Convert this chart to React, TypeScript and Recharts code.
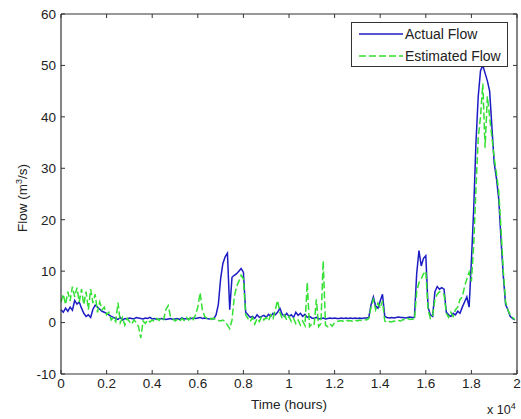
import React from 'react';
import { LineChart, Line, XAxis, YAxis } from 'recharts';

// time axis in hours, one sample every 100 h (0 .. 19900)
const hours = Array.from({ length: 200 }, (_, i) => i * 100);

const actualFlow = [
  2.5, 2.0, 2.8, 2.2, 3.0, 2.4, 4.3, 3.6, 4.0, 2.8,
  1.8, 1.2, 1.5, 1.0, 2.6, 3.4, 3.0, 2.6, 2.2, 2.0,
  1.8, 1.5, 1.2, 1.0, 0.8, 0.6, 1.0, 0.5, 0.8, 0.7,
  0.9, 0.8, 0.7, 1.0, 0.9, 0.8, 0.7, 0.9, 0.8, 1.0,
  0.7, 0.8, 0.6, 0.7, 0.8, 0.7, 0.6, 0.7, 0.8, 0.6,
  0.7, 0.8, 0.6, 0.9, 0.7, 0.8, 0.7, 0.8, 0.9, 0.8,
  0.9, 1.0, 0.8, 0.9, 0.8, 0.7, 0.8, 0.7, 1.5, 3.5,
  8.5, 11.5, 12.8, 13.5, 2.5, 8.8, 9.2, 9.5, 10.0, 10.5,
  9.8, 2.0, 1.5, 1.0, 1.2, 0.8, 1.5, 1.0, 1.2, 1.4,
  1.0, 1.6, 1.2, 1.8, 1.5, 2.0, 2.8, 1.6, 1.2, 1.8,
  1.2, 1.5, 1.0, 2.0, 1.4, 1.8, 1.2, 1.6, 1.0, 1.2,
  0.9, 0.8, 1.0, 0.7, 0.8, 0.9, 0.7, 0.8, 0.9, 0.8,
  0.9, 0.8, 0.8, 0.9, 0.8, 0.9, 0.8, 0.9, 0.8, 0.9,
  0.8, 0.9, 0.8, 0.9, 0.9, 1.0, 3.5, 5.0, 3.2, 2.8,
  4.2, 5.5, 1.2, 1.0, 0.9, 1.0, 0.9, 1.0, 1.1, 1.0,
  1.0, 0.9, 1.0, 1.1, 1.0, 1.0, 9.5, 14.0, 11.0, 12.5,
  13.0, 3.0, 1.5, 1.2, 6.0, 7.0, 6.5, 6.8, 6.5, 2.0,
  1.5, 1.2, 1.8, 1.5, 2.2, 1.8, 3.0, 4.0, 5.0, 3.0,
  12.0, 22.0, 35.0, 44.0, 49.0, 50.0, 48.5, 47.0, 45.0, 38.0,
  31.0, 28.0, 24.0, 16.0, 9.0, 3.5, 2.5, 1.2, 0.8, 0.5,
];

const estimatedFlow = [
  4.0, 5.5, 3.5, 6.0, 4.2, 7.0, 5.0, 6.8, 4.0, 6.5,
  3.5, 6.0, 2.5, 6.5, 3.8, 5.5, 2.0, 4.0, 2.5, 3.0,
  1.5, 2.0, 0.5, 1.0, 0.2, 3.9, 0.0, 1.0, -0.5, 0.8,
  0.2, -0.3, 0.5, 0.0, -0.8, -3.0, 0.3, -0.2, 0.5, 0.1,
  0.5, 0.2, 0.8, 0.4, 1.0, 0.6, 2.5, 3.3, 1.2, 0.8,
  0.3, 0.6, 0.2, 0.8, 0.4, 1.0, 0.5, 1.2, 0.6, 1.5,
  3.0, 5.8, 2.5, 1.2, 0.8, 1.0, 0.6, 0.9, 0.5, 0.4,
  0.3, 0.5, 0.2, -0.5, -1.2, 0.5, 5.0, 7.0, 8.0, 9.2,
  8.5, 1.5, 0.8, 0.2, 1.0, -0.3, 0.8, 0.2, 1.2, 0.5,
  1.0, 0.3, 1.5, 0.8, 2.5, 4.3, 2.0, 0.8, 1.5, 0.5,
  1.2, 0.2, 0.8, -0.2, 0.5, -0.5, 0.3, -0.6, 7.8, -0.8,
  -0.3, -0.5, 4.5, -0.8, -0.2, 12.0, -0.5, -0.8, -0.3, -0.7,
  0.0, 0.2, 0.3, 0.4, 0.2, 0.5, 0.3, 0.4, 0.2, 0.5,
  0.3, 0.5, 0.4, 0.6, 0.5, 0.8, 3.0, 4.5, 2.5, 3.8,
  2.8, 4.2, 0.3, 0.0, 0.2, 0.1, 0.3, 0.2, 0.4, 0.3,
  0.6, 0.5, 0.8, 0.6, 0.7, 0.5, 6.0, 7.8, 8.5, 9.5,
  10.0, 2.5, 0.8, 1.2, 4.5, 5.5, 6.0, 5.8, 5.5, 1.8,
  1.0, 2.0, 1.2, 2.5, 3.0, 4.5, 5.0, 7.0, 8.5, 9.8,
  8.0, 15.0, 26.0, 36.0, 40.0, 46.5, 34.0, 44.0, 40.0, 36.0,
  32.0, 29.0, 25.5, 18.0, 10.0, 4.0, 2.5, 1.5, 1.0, 0.6,
];

const xTicks = [0, 2000, 4000, 6000, 8000, 10000, 12000, 14000, 16000, 18000, 20000];
const xTickLabels = ['0', '0.2', '0.4', '0.6', '0.8', '1', '1.2', '1.4', '1.6', '1.8', '2'];
const yTicks = [-10, 0, 10, 20, 30, 40, 50, 60];

const data = hours.map((t, i) => ({ t, actual: actualFlow[i], estimated: estimatedFlow[i] }));

const BLUE = '#1c1cc4';
const GREEN = '#33e033';
const AXIS = '#333';
const font = 'Arial, "Liberation Sans", sans-serif';
const tickStyle = { fontSize: 13.5, fill: '#222', fontFamily: font };

export default function App() {
  return (
    <div style={{ position: 'absolute', left: 0, top: 0, width: 521, height: 419, background: '#fff', fontFamily: font }}>
      <LineChart width={521} height={419} data={data} margin={{ top: 0, right: 0, bottom: 15, left: 0 }}>
        <XAxis
          dataKey="t"
          type="number"
          domain={[0, 20000]}
          ticks={xTicks}
          tickFormatter={(v: number) => xTickLabels[xTicks.indexOf(v)]}
          tick={tickStyle}
          tickSize={-4}
          tickMargin={8}
          height={30}
          axisLine={{ stroke: AXIS, strokeWidth: 1.2 }}
          tickLine={{ stroke: AXIS }}
        />
        <XAxis
          xAxisId="top"
          orientation="top"
          dataKey="t"
          type="number"
          domain={[0, 20000]}
          ticks={xTicks}
          tickFormatter={() => ''}
          tickSize={-4}
          height={14}
          axisLine={{ stroke: AXIS, strokeWidth: 1.2 }}
          tickLine={{ stroke: AXIS }}
        />
        <YAxis
          type="number"
          domain={[-10, 60]}
          ticks={yTicks}
          tick={tickStyle}
          tickSize={-4}
          tickMargin={9}
          width={61}
          axisLine={{ stroke: AXIS, strokeWidth: 1.2 }}
          tickLine={{ stroke: AXIS }}
        />
        <YAxis
          yAxisId="right"
          orientation="right"
          type="number"
          domain={[-10, 60]}
          ticks={yTicks}
          tickFormatter={() => ''}
          tickSize={-4}
          width={4}
          axisLine={{ stroke: AXIS, strokeWidth: 1.2 }}
          tickLine={{ stroke: AXIS }}
        />
        <Line
          dataKey="actual"
          type="linear"
          stroke={BLUE}
          strokeWidth={1.5}
          dot={false}
          isAnimationActive={false}
        />
        <Line
          dataKey="estimated"
          xAxisId="top"
          yAxisId="right"
          type="linear"
          stroke={GREEN}
          strokeWidth={1.5}
          strokeDasharray="7 3"
          dot={false}
          isAnimationActive={false}
        />
      </LineChart>

      <div
        style={{
          position: 'absolute', left: 22, top: 198, transform: 'translate(-50%, -50%) rotate(-90deg)',
          fontSize: 13.5, color: '#222', whiteSpace: 'nowrap',
        }}
      >
        Flow (m<sup style={{ fontSize: 9 }}>3</sup>/s)
      </div>
      <div style={{ position: 'absolute', left: 289, top: 397, transform: 'translateX(-50%)', fontSize: 13.5, color: '#222', whiteSpace: 'nowrap' }}>
        Time (hours)
      </div>
      <div style={{ position: 'absolute', left: 487, top: 401, fontSize: 12.5, color: '#222', whiteSpace: 'nowrap' }}>
        x 10<sup style={{ fontSize: 9 }}>4</sup>
      </div>

      <div
        style={{
          position: 'absolute', left: 351, top: 22, width: 155, height: 43,
          border: `1px solid ${AXIS}`, background: '#fff',
        }}
      >
        <svg width={155} height={43} style={{ position: 'absolute', left: 0, top: 0 }}>
          <line x1={7} x2={51} y1={11} y2={11} stroke={BLUE} strokeWidth={1.5} />
          <line x1={7} x2={51} y1={33} y2={33} stroke={GREEN} strokeWidth={1.5} strokeDasharray="7 3" />
          <text x={53} y={16} fontSize={14} fill="#222" fontFamily={font}>Actual Flow</text>
          <text x={53} y={38} fontSize={14} fill="#222" fontFamily={font}>Estimated Flow</text>
        </svg>
      </div>
    </div>
  );
}
